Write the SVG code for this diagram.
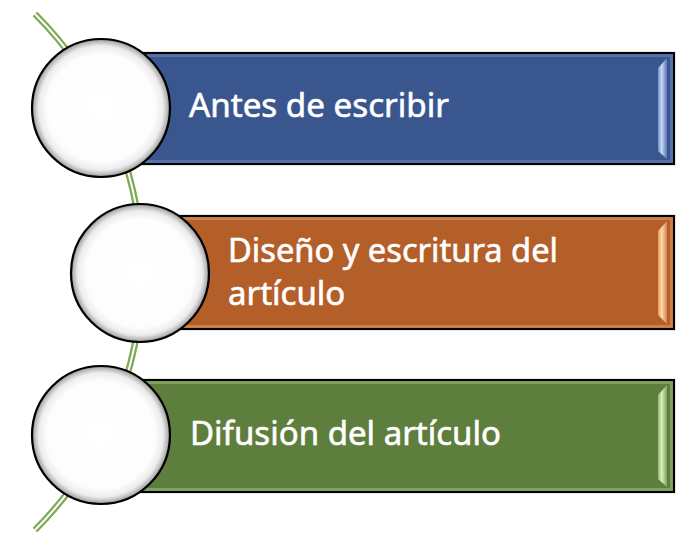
<svg xmlns="http://www.w3.org/2000/svg" width="692" height="552" viewBox="0 0 692 552">
  <defs>
    <radialGradient id="ball" cx="50%" cy="50%" r="50%">
      <stop offset="0" stop-color="#ffffff"/>
      <stop offset="0.78" stop-color="#fdfdfd"/>
      <stop offset="0.9" stop-color="#ececec"/>
      <stop offset="0.97" stop-color="#b4b4b4"/>
      <stop offset="1" stop-color="#7a7a7a"/>
    </radialGradient>
    <linearGradient id="bevB" x1="0" y1="0" x2="1" y2="0">
      <stop offset="0" stop-color="#6f8fd0"/>
      <stop offset="0.4" stop-color="#c9d8f5"/>
      <stop offset="1" stop-color="#5877b5"/>
    </linearGradient>
    <linearGradient id="bevO" x1="0" y1="0" x2="1" y2="0">
      <stop offset="0" stop-color="#e39a5e"/>
      <stop offset="0.4" stop-color="#ffd9a8"/>
      <stop offset="1" stop-color="#d4864c"/>
    </linearGradient>
    <linearGradient id="bevG" x1="0" y1="0" x2="1" y2="0">
      <stop offset="0" stop-color="#8fb870"/>
      <stop offset="0.4" stop-color="#d9f0bf"/>
      <stop offset="1" stop-color="#7fa35d"/>
    </linearGradient>
  </defs>
  <style>
    .box { stroke: #000; stroke-width: 2.2; }
    .edge { fill: none; stroke-width: 3; stroke-opacity: 0.55; }
    .ball { fill: url(#ball); stroke: #000; stroke-width: 2.2; }
    .lbl { font-family: "Noto Sans", "Open Sans", sans-serif; font-size: 33px; fill: #ffffff; stroke: #ffffff; stroke-width: 0.6; }
    .arcg { fill: none; stroke: #7daa55; stroke-width: 6.5; }
    .arcw { fill: none; stroke: #ffffff; stroke-width: 2; }
  </style>
  <g id="connectors">
    <path class="arcg" d="M 35 14 A 364.5 364.5 0 0 1 35 530"/>
    <path class="arcw" d="M 35 14 A 364.5 364.5 0 0 1 35 530"/>
  </g>
  <g id="node1">
    <rect class="box" x="101" y="53" width="573" height="111" fill="#39568f"/>
    <rect class="edge" x="103.5" y="55.5" width="568" height="106" stroke="#6f8bc4"/>
    <polygon points="658,68 667,58 667,159 658,151" fill="url(#bevB)"/>
    <circle class="ball" cx="101" cy="108" r="69"/>
    <text class="lbl" x="189" y="117" textLength="260" lengthAdjust="spacingAndGlyphs">Antes de escribir</text>
  </g>
  <g id="node2">
    <rect class="box" x="140" y="216" width="534" height="113" fill="#b45f2a"/>
    <rect class="edge" x="142.5" y="218.5" width="529" height="108" stroke="#e09a68"/>
    <polygon points="658,231 667,221 667,324 658,315" fill="url(#bevO)"/>
    <circle class="ball" cx="140" cy="273" r="69"/>
    <text class="lbl" x="228" y="262" textLength="330" lengthAdjust="spacingAndGlyphs">Diseño y escritura del</text>
    <text class="lbl" x="228" y="305">artículo</text>
  </g>
  <g id="node3">
    <rect class="box" x="101" y="380" width="573" height="112" fill="#5e7e3d"/>
    <rect class="edge" x="103.5" y="382.5" width="568" height="107" stroke="#9cc07a"/>
    <polygon points="658,395 667,385 667,487 658,479" fill="url(#bevG)"/>
    <circle class="ball" cx="101" cy="435" r="69"/>
    <text class="lbl" x="190" y="445" textLength="311" lengthAdjust="spacingAndGlyphs">Difusión del artículo</text>
  </g>
</svg>
